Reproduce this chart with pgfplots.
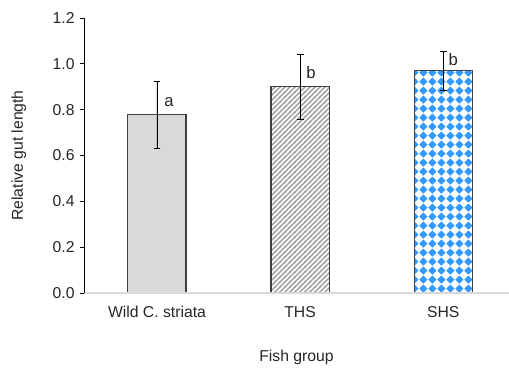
\documentclass[border=0pt]{standalone}
\usepackage{pgfplots}
\pgfplotsset{compat=1.18}
\usepackage{fontspec}
\setmainfont{Liberation Sans}
\usetikzlibrary{patterns}
\definecolor{barfill}{HTML}{D9D9D9}
\definecolor{baredge}{HTML}{404040}
\definecolor{stripe}{HTML}{A6A6A6}
\definecolor{dblue}{HTML}{3399FF}
\definecolor{axgray}{HTML}{D9D9D9}
\pgfdeclarepatternformonly{diamonds}{\pgfqpoint{0pt}{0pt}}{\pgfqpoint{7pt}{7pt}}{\pgfqpoint{7pt}{7pt}}{%
  \pgfpathmoveto{\pgfqpoint{3.5pt}{0.25pt}}%
  \pgfpathlineto{\pgfqpoint{6.75pt}{3.5pt}}%
  \pgfpathlineto{\pgfqpoint{3.5pt}{6.75pt}}%
  \pgfpathlineto{\pgfqpoint{0.25pt}{3.5pt}}%
  \pgfpathclose
  \pgfusepath{fill}}
\pgfdeclarepatternformonly{mystripes}{\pgfqpoint{-1pt}{-1pt}}{\pgfqpoint{4.75pt}{4.75pt}}{\pgfqpoint{3.75pt}{3.75pt}}{%
  \pgfsetlinewidth{1.1pt}%
  \pgfpathmoveto{\pgfqpoint{-0.5pt}{-0.5pt}}%
  \pgfpathlineto{\pgfqpoint{4.25pt}{4.25pt}}%
  \pgfusepath{stroke}}
\begin{document}
\begin{tikzpicture}
\begin{axis}[
  name=ax,
  scale only axis,
  width=318.75pt, height=206.25pt,
  xmin=-0.51, xmax=2.46,
  ymin=0, ymax=1.2,
  ytick={0,0.2,...,1.2},
  yticklabel style={xshift=-0.5pt, /pgf/number format/.cd, fixed, fixed zerofill, precision=1, assume math mode=true},
  xtick={0,1,2},
  xticklabels={Wild C. striata, THS, SHS},
  xtick style={draw=none},
  ytick style={draw=black, line width=0.5pt},
  tick align=outside,
  major tick length=3pt,
  axis x line*=bottom,
  axis y line*=left,
  axis on top,
  x axis line style={draw=axgray, line width=0.8pt, -},
  y axis line style={draw=black, line width=0.6pt, -},
  tick label style={font=\fontsize{11.8pt}{13pt}\selectfont, text=black!85},
  xticklabel style={yshift=-3.5pt},
  ylabel={Relative gut length},
  xlabel={Fish group},
  label style={font=\fontsize{11.8pt}{13pt}\selectfont, text=black!85},
  ylabel style={yshift=13pt},
  xlabel style={yshift=-17pt},
  bar width=0.406,
  ybar, bar shift=0pt,
  clip=false,
  error bars/error bar style={black, line width=0.6pt},
  error bars/error mark options={rotate=90, mark size=2.6pt, line width=0.6pt, black},
]
\addplot[fill=barfill, draw=baredge, line width=0.8pt, bar shift=0pt,
  error bars/.cd, y dir=both, y explicit]
  coordinates {(0,0.778) +- (0,0.145)};
\addplot[pattern=mystripes, pattern color=stripe, draw=baredge, line width=0.8pt, bar shift=0pt,
  error bars/.cd, y dir=both, y explicit]
  coordinates {(1,0.900) +- (0,0.142)};
\addplot[pattern=diamonds, pattern color=dblue, draw=baredge, line width=0.8pt, bar shift=0pt,
  error bars/.cd, y dir=both, y explicit]
  coordinates {(2,0.969) +- (0,0.085)};
\node[font=\fontsize{12.5pt}{14pt}\selectfont, text=black!85] at (axis cs:0.084,0.835) {a};
\node[font=\fontsize{12.5pt}{14pt}\selectfont, text=black!85] at (axis cs:1.077,0.96) {b};
\node[font=\fontsize{12.5pt}{14pt}\selectfont, text=black!85] at (axis cs:2.07,1.017) {b};
\end{axis}
\pgfresetboundingbox
\path ([xshift=-63pt, yshift=-55.5pt]ax.south west) rectangle ([yshift=13.5pt]ax.north east);
\end{tikzpicture}
\end{document}
